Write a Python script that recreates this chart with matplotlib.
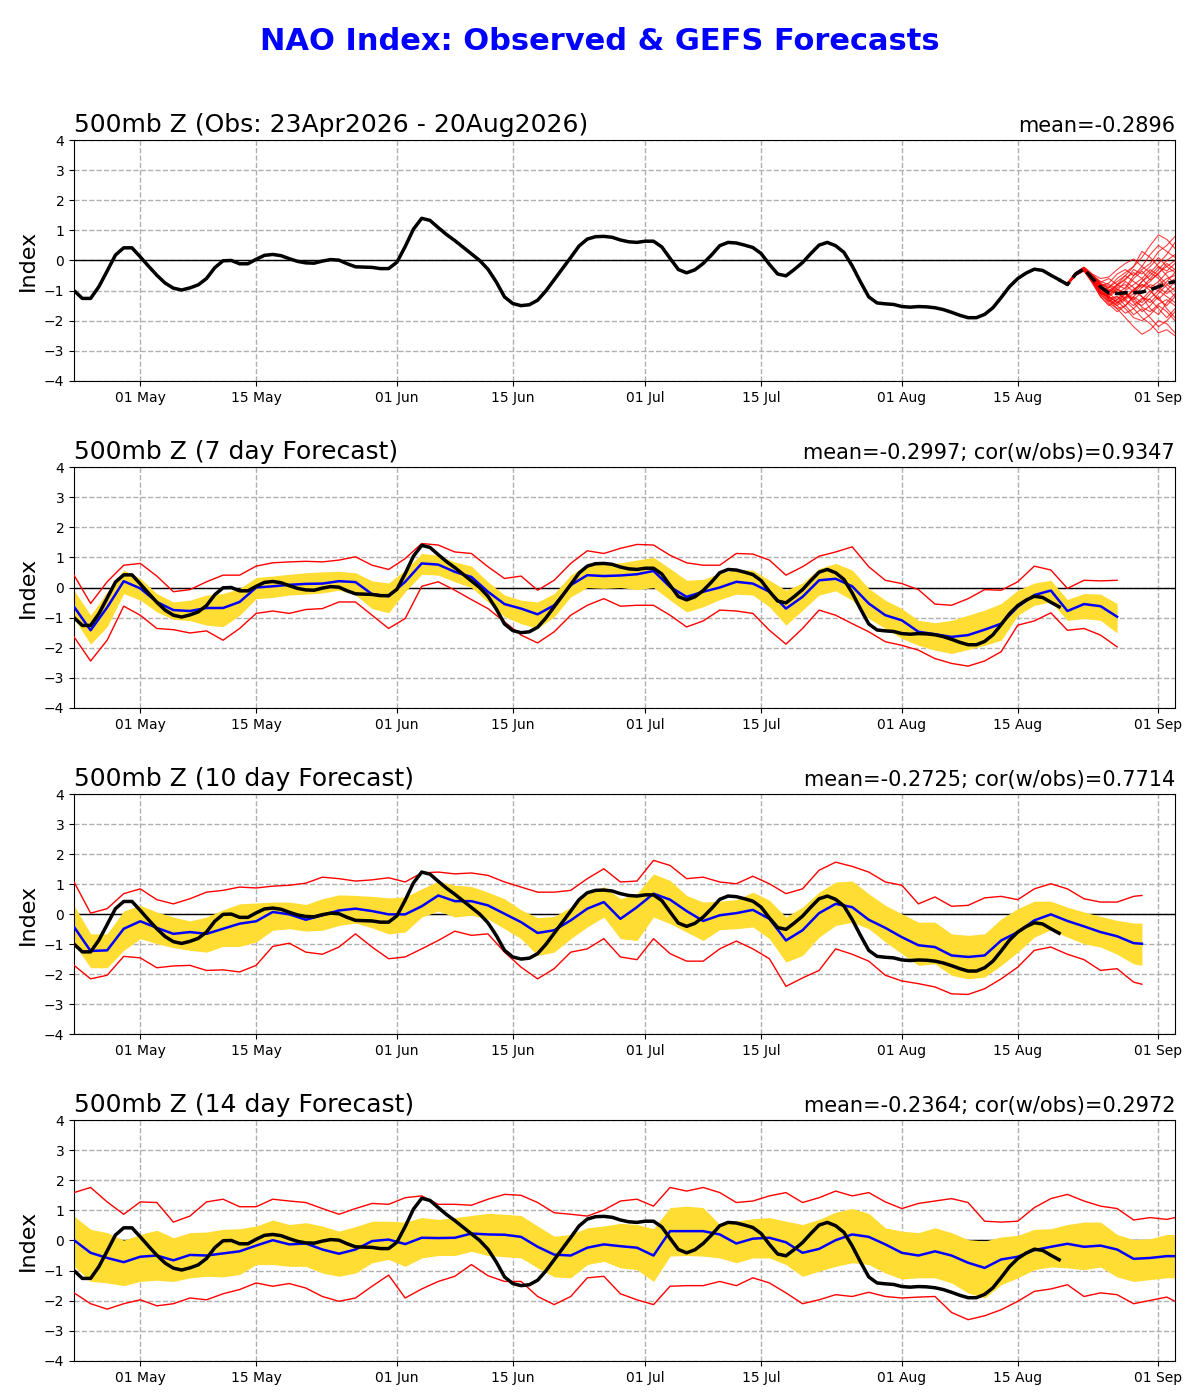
import numpy as np
import matplotlib
matplotlib.use('Agg')
import matplotlib.pyplot as plt
import matplotlib.dates as mdates

start = np.datetime64('2026-04-23')

# observed NAO index, daily from 23 Apr to 20 Aug
obs = [-1.0, -1.26, -1.26, -0.87, -0.35, 0.18, 0.42, 0.42, 0.12, -0.19,
       -0.49, -0.75, -0.92, -0.98, -0.91, -0.81, -0.6, -0.24, -0.01, 0.0,
       -0.11, -0.11, 0.04, 0.17, 0.2, 0.16, 0.06, -0.03, -0.08, -0.09,
       -0.02, 0.03, 0.01, -0.11, -0.21, -0.22, -0.23, -0.27, -0.27, -0.06,
       0.46, 1.04, 1.4, 1.33, 1.09, 0.86, 0.66, 0.44, 0.22, 0.0,
       -0.29, -0.71, -1.21, -1.43, -1.5, -1.47, -1.32, -1.01, -0.64, -0.27,
       0.1, 0.48, 0.71, 0.79, 0.8, 0.77, 0.68, 0.62, 0.6, 0.64,
       0.64, 0.45, 0.07, -0.3, -0.41, -0.31, -0.1, 0.18, 0.49, 0.6,
       0.58, 0.51, 0.43, 0.23, -0.13, -0.45, -0.51, -0.3, -0.07, 0.23,
       0.51, 0.6, 0.49, 0.27, -0.18, -0.71, -1.21, -1.41, -1.44, -1.46,
       -1.53, -1.55, -1.53, -1.54, -1.57, -1.63, -1.72, -1.82, -1.9, -1.9,
       -1.79, -1.57, -1.23, -0.87, -0.6, -0.42, -0.29, -0.33, -0.49, -0.64]
obs_days = np.arange(len(obs))

# GEFS ensemble from 20 Aug (top panel)
ens_days = np.arange(119, 134)
ens_mean = [-0.64, -0.8, -0.45, -0.28, -0.6, -0.88, -1.08, -1.1, -1.07,
            -1.07, -1.05, -0.97, -0.87, -0.76, -0.7]
members = [
    [-0.64, -0.78, -0.42, -0.25, -0.5, -0.8, -0.9, -0.7, -0.5, -0.2, 0.1, 0.5, 0.85, 0.7, 0.4],
    [-0.64, -0.8, -0.48, -0.3, -0.65, -1.1, -1.4, -1.6, -1.9, -2.2, -2.45, -2.3, -2.0, -2.1, -2.4],
    [-0.64, -0.75, -0.4, -0.22, -0.45, -0.6, -0.55, -0.3, -0.1, 0.05, -0.2, -0.4, -0.1, 0.2, 0.6],
    [-0.64, -0.82, -0.5, -0.35, -0.75, -1.2, -1.5, -1.3, -1.1, -1.4, -1.7, -1.5, -1.2, -1.6, -1.9],
    [-0.64, -0.79, -0.44, -0.27, -0.55, -0.9, -1.1, -1.3, -1.0, -0.8, -0.6, -0.3, -0.5, -0.8, -0.6],
    [-0.64, -0.77, -0.46, -0.3, -0.62, -1.0, -1.2, -1.0, -0.7, -0.9, -1.2, -1.4, -1.1, -0.8, -1.0],
    [-0.64, -0.81, -0.43, -0.24, -0.52, -0.85, -1.3, -1.6, -1.5, -1.2, -0.9, -0.7, -0.4, -0.2, 0.0],
    [-0.64, -0.78, -0.47, -0.32, -0.7, -1.15, -1.35, -1.5, -1.75, -1.6, -1.3, -1.0, -1.3, -1.5, -1.2],
    [-0.64, -0.76, -0.41, -0.26, -0.48, -0.75, -0.95, -1.1, -0.9, -0.5, -0.3, -0.1, 0.3, 0.5, 0.8],
    [-0.64, -0.8, -0.49, -0.34, -0.68, -1.05, -1.25, -1.2, -1.35, -1.6, -1.9, -2.1, -2.4, -2.3, -2.5],
    [-0.64, -0.79, -0.45, -0.29, -0.58, -0.95, -1.05, -0.85, -0.6, -0.4, -0.6, -0.9, -0.7, -0.4, -0.3],
    [-0.64, -0.82, -0.44, -0.28, -0.6, -1.0, -1.3, -1.45, -1.2, -1.0, -1.2, -1.6, -1.8, -1.4, -1.1],
    [-0.64, -0.77, -0.42, -0.23, -0.5, -0.7, -0.8, -0.95, -1.1, -1.3, -1.05, -0.8, -0.9, -1.1, -0.9],
    [-0.64, -0.81, -0.48, -0.33, -0.72, -1.2, -1.45, -1.7, -1.5, -1.2, -1.4, -1.1, -0.8, -0.6, -0.5],
    [-0.64, -0.78, -0.43, -0.26, -0.56, -0.88, -1.0, -1.1, -1.25, -1.0, -0.7, -0.5, -0.2, -0.35, -0.1],
    [-0.64, -0.8, -0.46, -0.31, -0.64, -1.05, -1.2, -1.35, -1.6, -1.9, -2.0, -1.8, -1.5, -1.7, -2.0],
    [-0.64, -0.76, -0.41, -0.24, -0.5, -0.8, -1.0, -0.8, -0.5, -0.7, -0.9, -0.6, -0.3, 0.0, 0.2],
    [-0.64, -0.79, -0.47, -0.3, -0.66, -1.1, -1.15, -0.95, -1.1, -1.35, -1.5, -1.25, -1.0, -1.2, -1.4],
    [-0.64, -0.78, -0.44, -0.27, -0.57, -0.92, -1.2, -1.4, -1.25, -0.95, -0.8, -1.0, -1.3, -1.0, -0.7],
    [-0.64, -0.8, -0.45, -0.28, -0.6, -0.98, -0.9, -0.6, -0.4, -0.2, 0.3, 0.1, -0.2, -0.5, -0.8],
    [-0.64, -0.79, -0.43, -0.26, -0.54, -0.85, -0.75, -0.45, -0.3, -0.5, -0.2, 0.2, 0.5, 0.3, 0.1],
    [-0.64, -0.8, -0.47, -0.31, -0.66, -1.05, -1.35, -1.2, -1.5, -1.8, -1.6, -1.9, -2.2, -2.0, -1.7],
    [-0.64, -0.77, -0.44, -0.27, -0.58, -0.9, -1.15, -0.9, -0.8, -1.05, -0.7, -0.4, -0.6, -0.9, -1.2],
    [-0.64, -0.81, -0.46, -0.29, -0.63, -1.0, -1.25, -1.5, -1.3, -1.1, -0.8, -0.9, -1.0, -0.7, -0.4],
    [-0.64, -0.78, -0.42, -0.25, -0.5, -0.78, -0.85, -1.05, -1.3, -1.5, -1.25, -1.3, -1.6, -1.9, -1.6],
    [-0.64, -0.79, -0.45, -0.28, -0.59, -0.95, -1.1, -0.8, -0.95, -0.6, -0.35, -0.65, -0.45, -0.1, -0.3],
    [-0.64, -0.8, -0.48, -0.33, -0.7, -1.1, -1.2, -1.4, -1.1, -1.25, -1.55, -1.7, -1.45, -1.3, -1.5],
    [-0.64, -0.76, -0.41, -0.23, -0.47, -0.72, -0.6, -0.8, -0.65, -0.3, -0.45, -0.2, 0.1, -0.2, -0.4],
]

# 7 day forecast (every 2 days)
days7 = np.arange(0, 127, 2)
mean7 = [-0.64, -1.42, -0.66, 0.21, -0.03, -0.48, -0.75, -0.78, -0.68, -0.68, -0.48, 0.0, 0.04, 0.09, 0.12, 0.13, 0.21,
         0.18, -0.22, -0.29, 0.19, 0.8, 0.76, 0.52, 0.35, -0.14, -0.55, -0.7, -0.89, -0.59, 0.08, 0.41, 0.38, 0.4,
         0.44, 0.55, 0.02, -0.31, -0.14, 0.0, 0.19, 0.13, -0.14, -0.7, -0.31, 0.24, 0.29, 0.04, -0.53, -0.92, -1.09,
         -1.47, -1.55, -1.64, -1.58, -1.4, -1.2, -0.64, -0.25, -0.1, -0.78, -0.55, -0.62, -0.97]
upper7 = [-0.09, -0.92, -0.14, 0.58, 0.3, -0.2, -0.48, -0.42, -0.25, -0.2, -0.03, 0.33, 0.38, 0.44, 0.49, 0.52, 0.54,
          0.49, 0.22, 0.15, 0.58, 1.13, 1.07, 0.85, 0.71, 0.19, -0.25, -0.42, -0.48, -0.2, 0.41, 0.78, 0.8, 0.82,
          0.91, 1.0, 0.63, 0.24, 0.27, 0.47, 0.6, 0.58, 0.24, -0.09, 0.15, 0.63, 0.8, 0.58, -0.03, -0.42, -0.7,
          -1.09, -1.17, -1.09, -0.92, -0.75, -0.53, -0.09, 0.15, 0.24, -0.4, -0.2, -0.22, -0.53]
lower7 = [-1.03, -1.88, -1.3, -0.2, -0.42, -0.81, -1.06, -1.1, -1.25, -1.3, -0.92, -0.37, -0.33, -0.25, -0.22, -0.18,
          -0.09, -0.25, -0.7, -0.84, -0.14, 0.44, 0.41, 0.19, 0.0, -0.48, -0.97, -1.2, -1.36, -0.97, -0.31, 0.0, -0.03,
          0.0, -0.07, 0.0, -0.42, -0.81, -0.64, -0.4, -0.22, -0.25, -0.64, -1.25, -0.75, -0.25, -0.11, -0.42, -1.03,
          -1.36, -1.69, -1.92, -2.08, -2.19, -2.06, -1.92, -1.75, -0.92, -0.59, -0.48, -1.09, -1.03, -1.09, -1.51]
max7 = [0.41, -0.53, 0.19, 0.74, 0.8, 0.38, -0.14, -0.07, 0.19, 0.41, 0.41, 0.71, 0.82, 0.85, 0.87, 0.85, 0.91, 1.02,
        0.74, 0.6, 0.96, 1.46, 1.41, 1.18, 1.13, 0.69, 0.3, 0.38, -0.09, 0.24, 0.8, 1.22, 1.13, 1.3,
        1.43, 1.41, 1.07, 0.82, 0.74, 0.74, 1.13, 1.11, 0.91, 0.41, 0.69, 1.04, 1.18, 1.35, 0.69, 0.24, 0.13, -0.07,
        -0.55, -0.59, -0.37, -0.07, -0.09, 0.19, 0.71, 0.58, -0.03, 0.24, 0.22, 0.24]
min7 = [-1.64, -2.44, -1.75, -0.62, -0.92, -1.36, -1.4, -1.51, -1.44, -1.75, -1.36, -0.86, -0.78, -0.86, -0.73, -0.7,
        -0.48, -0.48, -0.92, -1.36, -1.03, 0.04, 0.19, -0.09, -0.4, -0.7, -1.14, -1.58, -1.84, -1.47, -0.92, -0.59,
        -0.37, -0.62, -0.59, -0.59, -0.92, -1.31, -1.11, -0.75, -0.78, -0.86, -1.42, -1.88, -1.36, -0.75, -0.92, -1.2,
        -1.47, -1.8, -1.92, -2.08, -2.36, -2.52, -2.61, -2.44, -2.13, -1.25, -1.11, -0.84, -1.42, -1.36, -1.58, -1.97]

# 10 day forecast
days10 = np.append(np.arange(0, 129, 2), 129)
mean10 = [-0.43, -1.23, -1.21, -0.49, -0.24, -0.46, -0.66, -0.6, -0.66, -0.49, -0.32, -0.24, 0.07, -0.01, -0.19, -0.04,
          0.12, 0.18, 0.1, -0.01, -0.01, 0.26, 0.62, 0.43, 0.43, 0.29, 0.01, -0.27, -0.63, -0.54, -0.21, 0.18, 0.4,
          -0.16, 0.23, 0.68, 0.48, 0.1, -0.23, -0.04, 0.03, 0.14, -0.16, -0.88, -0.54, 0.03, 0.34, 0.23, -0.19, -0.46,
          -0.77, -1.04, -1.1, -1.38, -1.43, -1.38, -0.88, -0.6, -0.21, -0.01, -0.23, -0.41, -0.6, -0.74, -0.97, -0.99]
upper10 = [0.29, -0.66, -0.66, 0.1, 0.29, 0.07, -0.1, -0.23, -0.1, 0.14, 0.34, 0.37, 0.4, 0.4, 0.32, 0.51, 0.64, 0.62,
           0.59, 0.54, 0.57, 0.84, 1.1, 0.96, 0.92, 0.73, 0.51, 0.14, -0.12, -0.08, 0.23, 0.66, 0.92, 0.51,
           0.68, 1.34, 1.12, 0.62, 0.4, 0.43, 0.48, 0.73, 0.46, -0.1, 0.23, 0.73, 1.07, 1.1, 0.68, 0.29, 0.01, -0.27,
           -0.27, -0.66, -0.71, -0.66, -0.16, 0.18, 0.43, 0.43, 0.23, 0.07, -0.08, -0.21, -0.3, -0.3]
lower10 = [-0.99, -1.79, -1.79, -1.21, -0.82, -0.99, -1.12, -1.21, -1.27, -1.08, -1.08, -0.93, -0.54, -0.49, -0.57,
           -0.54, -0.38, -0.3, -0.46, -0.66, -0.6, -0.1, 0.1, -0.1, -0.04, -0.16, -0.49, -0.82, -1.38, -1.27, -0.82,
           -0.43, -0.1, -0.82, -0.88, -0.1, -0.32, -0.6, -0.88, -0.52, -0.49, -0.43, -0.82, -1.6, -1.38, -0.77, -0.38,
           -0.27, -0.49, -0.93, -1.32, -1.71, -1.66, -2.04, -2.16, -2.1, -1.71, -1.27, -0.77, -0.52, -0.77, -0.99,
           -1.1, -1.34, -1.66, -1.71]
max10 = [1.07, 0.03, 0.18, 0.68, 0.84, 0.48, 0.34, 0.51, 0.73, 0.79, 0.9, 0.87, 0.93, 0.96, 1.03, 1.23, 1.18, 1.1,
         1.14, 1.21, 1.07, 1.37, 1.4, 1.34, 1.37, 1.29, 1.07, 0.9, 0.73, 0.73, 0.79, 1.18, 1.51, 1.07,
         1.1, 1.79, 1.62, 1.18, 1.23, 1.07, 1.01, 1.26, 1.01, 0.68, 0.84, 1.46, 1.73, 1.59, 1.4, 1.07, 0.96, 0.34,
         0.57, 0.26, 0.29, 0.54, 0.59, 0.48, 0.84, 1.01, 0.84, 0.51, 0.4, 0.4, 0.59, 0.62]
min10 = [-1.71, -2.16, -2.04, -1.41, -1.46, -1.79, -1.73, -1.71, -1.88, -1.86, -1.93, -1.71, -1.08, -0.97, -1.27,
         -1.34, -1.1, -0.66, -1.1, -1.49, -1.43, -1.16, -0.88, -0.57, -0.71, -0.66, -1.27, -1.77, -2.16, -1.82, -1.27,
         -1.16, -0.82, -1.43, -1.52, -0.82, -1.32, -1.57, -1.57, -1.16, -0.9, -1.16, -1.49, -2.41, -2.13, -1.88,
         -1.16, -1.34, -1.57, -2.04, -2.23, -2.32, -2.43, -2.66, -2.68, -2.49, -2.16, -1.77, -1.21, -1.1, -1.34,
         -1.52, -1.88, -1.82, -2.27, -2.34]

# 14 day forecast
days14 = np.append(np.arange(0, 133, 2), 133)
mean14 = [0.01, -0.41, -0.58, -0.72, -0.54, -0.5, -0.66, -0.48, -0.5, -0.43, -0.36, -0.17, 0.01, -0.13, -0.1, -0.3,
          -0.44, -0.3, -0.02, 0.03, -0.12, 0.09, 0.08, 0.09, 0.23, 0.2, 0.19, 0.12, -0.21, -0.47, -0.5, -0.24, -0.13,
          -0.19, -0.24, -0.5, 0.31, 0.31, 0.31, 0.2, -0.1, 0.06, 0.09, -0.06, -0.41, -0.28, 0.01, 0.2, 0.12, -0.13,
          -0.41, -0.5, -0.36, -0.5, -0.74, -0.91, -0.63, -0.54, -0.32, -0.21, -0.11, -0.21, -0.17, -0.3, -0.61, -0.58,
          -0.52, -0.52]
upper14 = [0.81, 0.37, 0.26, 0.01, 0.2, 0.34, 0.09, 0.26, 0.28, 0.37, 0.39, 0.48, 0.68, 0.53, 0.59, 0.48, 0.31, 0.46,
           0.64, 0.64, 0.61, 0.76, 0.7, 0.76, 0.83, 0.9, 0.87, 0.83, 0.48, 0.14, 0.2, 0.42, 0.48, 0.57,
           0.53, 0.39, 1.09, 1.14, 1.09, 0.53, 0.64, 0.72, 0.76, 0.64, 0.53, 0.7, 0.94, 1.06, 0.9, 0.42, 0.31, 0.26,
           0.42, 0.26, 0.03, -0.02, 0.12, 0.17, 0.37, 0.39, 0.53, 0.61, 0.61, 0.2, 0.03, 0.06, 0.2, 0.2]
lower14 = [-0.86, -1.36, -1.41, -1.5, -1.36, -1.32, -1.36, -1.24, -1.19, -1.21, -1.13, -0.8, -0.8, -0.86, -0.86, -1.08,
           -1.19, -1.08, -0.74, -0.63, -0.86, -0.58, -0.5, -0.5, -0.36, -0.5, -0.54, -0.58, -0.91, -1.21, -1.24, -0.8,
           -0.69, -0.91, -0.97, -1.36, -0.52, -0.5, -0.52, -0.58, -0.74, -0.58, -0.58, -0.8, -1.19, -1.02, -0.86,
           -0.74, -0.8, -1.08, -1.28, -1.24, -1.24, -1.41, -1.74, -1.91, -1.47, -1.24, -0.97, -0.88, -0.91, -0.97,
           -0.88, -1.21, -1.36, -1.3, -1.24, -1.24]
max14 = [1.59, 1.76, 1.28, 0.87, 1.28, 1.26, 0.61, 0.81, 1.28, 1.37, 1.12, 1.12, 1.37, 1.31, 1.26, 1.06, 0.87, 1.06,
         1.23, 1.2, 1.42, 1.48, 1.2, 1.2, 1.17, 1.37, 1.53, 1.5, 1.26, 0.92, 0.87, 0.81, 1.01, 1.31,
         1.37, 1.14, 1.76, 1.64, 1.76, 1.59, 1.26, 1.31, 1.48, 1.59, 1.26, 1.42, 1.64, 1.48, 1.59, 1.28, 1.06, 1.23,
         1.31, 1.39, 1.26, 0.64, 0.61, 0.64, 1.09, 1.39, 1.53, 1.31, 1.14, 1.06, 0.68, 0.76, 0.7, 0.76]
min14 = [-1.74, -2.1, -2.28, -2.1, -1.97, -2.17, -2.1, -1.91, -1.97, -1.77, -1.63, -1.41, -1.52, -1.43, -1.58, -1.86,
         -2.02, -1.91, -1.52, -1.15, -1.91, -1.61, -1.36, -1.19, -0.8, -1.17, -1.36, -1.36, -1.86, -2.13, -1.86, -1.24,
         -1.19, -1.77, -1.97, -2.13, -1.52, -1.5, -1.5, -1.36, -1.5, -1.24, -1.41, -1.74, -2.1, -1.97, -1.8, -1.86,
         -1.72, -1.86, -1.91, -1.88, -1.86, -2.39, -2.63, -2.5, -2.3, -2.02, -1.69, -1.61, -1.47, -1.86, -1.74, -1.8,
         -2.1, -1.99, -1.88, -2.02]

left_titles = ['500mb Z (Obs: 23Apr2026 - 20Aug2026)', '500mb Z (7 day Forecast)',
               '500mb Z (10 day Forecast)', '500mb Z (14 day Forecast)']
right_titles = ['mean=-0.2896', 'mean=-0.2997; cor(w/obs)=0.9347',
                'mean=-0.2725; cor(w/obs)=0.7714', 'mean=-0.2364; cor(w/obs)=0.2972']


def to_dates(days):
    return start + np.asarray(days).astype('timedelta64[D]')


def setup(ax, ltitle, rtitle):
    ax.set_xlim(start, start + np.timedelta64(133, 'D'))
    ax.set_ylim(-4, 4)
    ax.set_yticks(range(-4, 5))
    ax.xaxis.set_major_locator(mdates.DayLocator(bymonthday=[1, 15]))
    ax.xaxis.set_major_formatter(mdates.DateFormatter('%d %b'))
    ax.grid(True, linestyle='--', color='#b0b0b0', linewidth=1)
    ax.axhline(0, color='black', linewidth=1, zorder=2)
    ax.tick_params(labelsize=10)
    ax.set_ylabel('Index', fontsize=16)
    ax.set_title(ltitle, loc='left', fontsize=18, pad=4)
    ax.set_title(rtitle, loc='right', fontsize=15, pad=6)


fig = plt.figure(figsize=(12, 14), dpi=100)
fig.text(0.5, 0.97, 'NAO Index: Observed & GEFS Forecasts', color='blue',
         fontsize=22, fontweight='bold', ha='center', va='center')

rects = [[0.0617, 0.7279, 0.9175, 0.1721], [0.0617, 0.4943, 0.9175, 0.1721],
         [0.0617, 0.2614, 0.9175, 0.1714], [0.0617, 0.0279, 0.9175, 0.1721]]
axes = [fig.add_axes(r) for r in rects]

# top panel: observations plus ensemble members
ax = axes[0]
setup(ax, left_titles[0], right_titles[0])
ax.plot(to_dates(obs_days), obs, color='black', linewidth=2.5, zorder=4)
for m in members:
    ax.plot(to_dates(ens_days), m, color='red', linewidth=0.8, alpha=0.75, zorder=3)
ax.plot(to_dates(ens_days), ens_mean, color='black', linewidth=2.5, linestyle='--', zorder=5)

# forecast panels
fc = [(days7, mean7, upper7, lower7, max7, min7),
      (days10, mean10, upper10, lower10, max10, min10),
      (days14, mean14, upper14, lower14, max14, min14)]
for ax, (d, mn, up, lo, mx, mi), lt, rt in zip(axes[1:], fc, left_titles[1:], right_titles[1:]):
    setup(ax, lt, rt)
    dd = to_dates(d)
    ax.fill_between(dd, lo, up, color='#FFDD33', linewidth=0, zorder=2)
    ax.plot(dd, mx, color='red', linewidth=1, zorder=3)
    ax.plot(dd, mi, color='red', linewidth=1, zorder=3)
    ax.plot(dd, mn, color='blue', linewidth=1.8, zorder=4)
    ax.plot(to_dates(obs_days), obs, color='black', linewidth=2.5, zorder=5)

fig.savefig('out.png', dpi=100)
